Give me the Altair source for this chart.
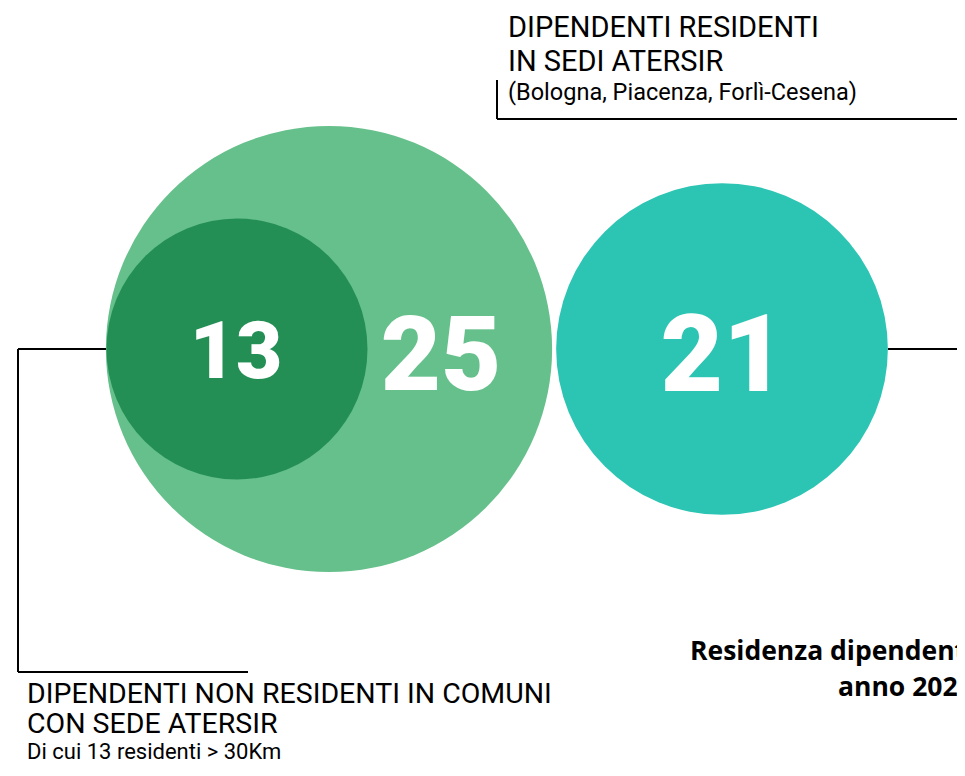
import altair as alt
import pandas as pd

# ---- data -------------------------------------------------------------
circle_names = ["Non residenti in comuni con sede (totale)", "di cui residenti > 30Km", "Residenti in sedi ATERSIR"]
circle_values = [38, 13, 21]           # area of each circle (38 = 13 + 25)
circle_colors = ["#66c08b", "#248f55", "#2cc4b3"]

number_texts = ["13", "25", "21"]
number_sizes = [80, 104, 108]

top_lines = ["DIPENDENTI RESIDENTI", "IN SEDI ATERSIR"]
top_sub = ["(Bologna, Piacenza, Forlì-Cesena)"]
bottom_lines = ["DIPENDENTI NON RESIDENTI IN COMUNI", "CON  SEDE ATERSIR"]
bottom_sub = ["Di cui 13 residenti > 30Km"]
title_lines = ["Residenza dipendenti", "anno 2024"]

# ---- layout (page pixel coordinates) ----------------------------------
circle_cx = [329, 237, 722]
circle_cy = [349, 349, 349]
number_x = [236, 441, 723]
number_y = [378, 390, 391]

seg_x = [18, 18, 18, 497, 497, 888]
seg_y = [349, 349, 672, 80, 119, 349]
seg_x2 = [106, 18, 248, 497, 965, 965]
seg_y2 = [349, 672, 672, 119, 119, 349]

W, H = 949, 756
X = alt.Scale(domain=[8, 8 + W], range=[0, W])
Y = alt.Scale(domain=[8, 8 + H], reverse=True)

circles = pd.DataFrame({"name": circle_names, "value": circle_values,
                        "cx": circle_cx, "cy": circle_cy})
numbers = pd.DataFrame({"t": number_texts, "x": number_x, "y": number_y, "s": number_sizes})
segs = pd.DataFrame({"x": seg_x, "y": seg_y, "x2": seg_x2, "y2": seg_y2})

circle_layer = alt.Chart(circles).mark_circle(opacity=1, strokeWidth=0).encode(
    x=alt.X("cx:Q", scale=X, axis=None),
    y=alt.Y("cy:Q", scale=Y, axis=None),
    size=alt.Size("value:Q", scale=alt.Scale(type="linear", domain=[0, 38], range=[0, 38 * 5240]), legend=None),
    color=alt.Color("name:N", scale=alt.Scale(domain=circle_names, range=circle_colors), legend=None),
)

number_layer = alt.Chart(numbers).mark_text(
    font="Roboto", fontWeight=900, color="white", align="center", baseline="alphabetic"
).encode(
    x=alt.X("x:Q", scale=X, axis=None),
    y=alt.Y("y:Q", scale=Y, axis=None),
    text="t:N",
    size=alt.Size("s:Q", scale=None, legend=None),
)

rule_layer = alt.Chart(segs).mark_rule(color="black", strokeWidth=2, clip=True).encode(
    x=alt.X("x:Q", scale=X, axis=None), y=alt.Y("y:Q", scale=Y, axis=None),
    x2="x2:Q", y2="y2:Q",
)


def text_layer(lines, xs, ys, size, font, weight="normal"):
    df = pd.DataFrame({"t": lines, "x": xs, "y": ys})
    return alt.Chart(df).mark_text(
        font=font, fontSize=size, fontWeight=weight, color="black",
        align="left", baseline="alphabetic", clip=True
    ).encode(
        x=alt.X("x:Q", scale=X, axis=None),
        y=alt.Y("y:Q", scale=Y, axis=None),
        text="t:N",
    )


t1 = text_layer(top_lines, [508, 508], [37, 71], 29, "Roboto")
t2 = text_layer(top_sub, [508], [100], 23.5, "Roboto")
t3 = text_layer(bottom_lines, [27, 27], [703, 733], 28.5, "Roboto")
t4 = text_layer(bottom_sub, [27], [759], 22, "Roboto")
t5 = text_layer(title_lines, [690, 838], [660, 696], 26.5, "Open Sans", "bold")

chart = alt.layer(circle_layer, rule_layer, number_layer, t1, t2, t3, t4, t5).properties(
    width=W, height=H, padding=0, autosize=alt.AutoSizeParams(type="none")
).configure_view(stroke=None)

chart.save("out.html", embed_options={"renderer": "svg", "actions": False})
